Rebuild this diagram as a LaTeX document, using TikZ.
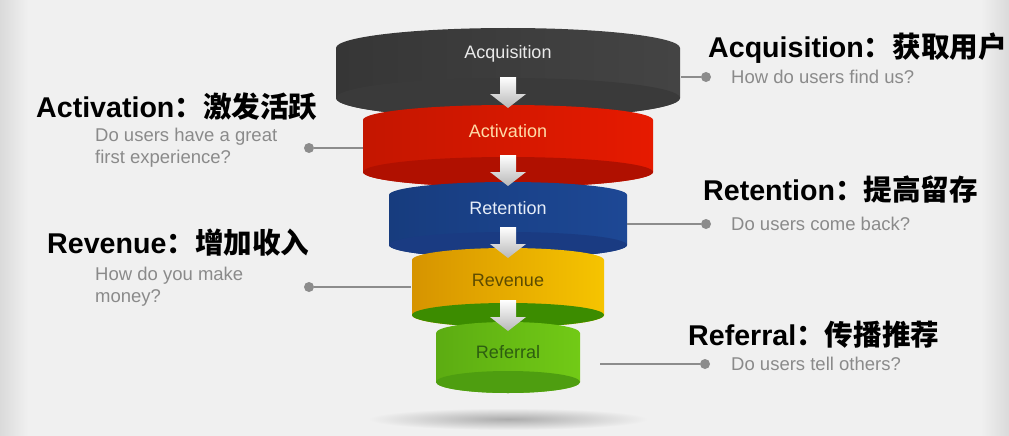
\documentclass[tikz,border=0pt]{standalone}
\usepackage{fontspec}
\setmainfont{Liberation Sans}
\newfontfamily\cjk{Noto Sans CJK SC}

\definecolor{bgc}{HTML}{F0F0F0}
\definecolor{bgside}{HTML}{DADADA}
\definecolor{dotgray}{HTML}{8C8C8C}
\definecolor{qgray}{HTML}{8A8A8A}
\definecolor{arrowgray}{HTML}{B8B8B8}
% ring colours: left, middle, right, underside, text
\definecolor{acqL}{HTML}{363636}\definecolor{acqM}{HTML}{6A6A6A}\definecolor{acqR}{HTML}{444444}
\definecolor{acqU}{HTML}{3A3A3A}\definecolor{acqT}{HTML}{EAEAEA}
\definecolor{actL}{HTML}{C41600}\definecolor{actM}{HTML}{FF3C00}\definecolor{actR}{HTML}{E61A00}
\definecolor{actU}{HTML}{B01000}\definecolor{actT}{HTML}{FFDCA8}
\definecolor{retL}{HTML}{173C7E}\definecolor{retM}{HTML}{4172C2}\definecolor{retR}{HTML}{1D4895}
\definecolor{retU}{HTML}{1A3B82}\definecolor{retT}{HTML}{E6EDF8}
\definecolor{revL}{HTML}{D69400}\definecolor{revM}{HTML}{FFE800}\definecolor{revR}{HTML}{F6C400}
\definecolor{revU}{HTML}{3C8C00}\definecolor{revT}{HTML}{5C4B00}
\definecolor{refL}{HTML}{5CAC12}\definecolor{refM}{HTML}{94E626}\definecolor{refR}{HTML}{72CA16}
\definecolor{refU}{HTML}{4E9E10}\definecolor{refT}{HTML}{2D5E10}

\tikzset{
  ringlabel/.style={font=\fontsize{18}{20}\selectfont},
  headline/.style={anchor=west, inner sep=0pt, font=\fontsize{28.6}{30}\selectfont\bfseries},
  question/.style={anchor=west, align=left, inner sep=0pt, text=qgray, font=\fontsize{18.5}{22}\selectfont},
  knob/.style={circle, fill=dotgray, inner sep=0pt, minimum size=10pt},
  link/.style={draw=dotgray, line width=1.2pt},
}

\begin{document}
\begin{tikzpicture}[x=1pt,y=-1pt]
  \useasboundingbox (0,0) rectangle (1009,436);
  \fill[bgc] (0,0) rectangle (1009,436);
  \shade[left color=bgside, right color=bgc] (0,0) rectangle (28,436);
  \shade[left color=bgc, right color=bgside] (981,0) rectangle (1009,436);
  \shade[inner color=gray!65, outer color=bgc] (508,419) ellipse [x radius=140, y radius=11];

  % the five rings, top to bottom
  \foreach \a/\t/\b/\r/\k in {172/48/98/20/acq, 145/120/172/15/act, 119/195/245/13/ret,
                              96/260/315/12/rev, 72/333/382/11/ref}
  {
    \shade[left color=\k L, middle color=\k M, right color=\k R]
      (508-\a,\t) arc[start angle=180, end angle=360, x radius=\a, y radius=\r]
      -- (508+\a,\b) arc[start angle=0, end angle=180, x radius=\a, y radius=\r] -- cycle;
    \fill[\k U] (508,\b) ellipse [x radius=\a, y radius=\r];
  }

  % arrows between the rings
  \foreach \y in {77,155,227,300}
    \shade[top color=white, bottom color=arrowgray]
      (500,\y) -- (516,\y) -- (516,\y+17) -- (526,\y+17) -- (508,\y+31)
      -- (490,\y+17) -- (500,\y+17) -- cycle;

  \node[ringlabel, text=acqT] (acq) at (508,54)  {Acquisition};
  \node[ringlabel, text=actT] (act) at (508,131) {Activation};
  \node[ringlabel, text=retT] (ret) at (508,208) {Retention};
  \node[ringlabel, text=revT] (rev) at (508,280) {Revenue};
  \node[ringlabel, text=refT] (ref) at (508,352) {Referral};

  % Acquisition
  \node[headline] (tacq) at (708,48) {Acquisition{\cjk ：获取用户}};
  \node[question] (qacq) at (731,77) {How do users find us?};
  \node[knob] (dacq) at (706,77) {};
  \coordinate (eacq) at (681,77);
  \draw[link] (eacq) -- (dacq);

  % Activation
  \node[headline] (tact) at (36,107) {Activation{\cjk ：激发活跃}};
  \node[question] (qact) at (95,148) {Do users have a great\\first experience?};
  \node[knob] (dact) at (309,148) {};
  \coordinate (eact) at (363,148);
  \draw[link] (dact) -- (eact);

  % Retention
  \node[headline] (tret) at (703,190) {Retention{\cjk ：提高留存}};
  \node[question] (qret) at (731,224) {Do users come back?};
  \node[knob] (dret) at (706,224) {};
  \coordinate (eret) at (627,224);
  \draw[link] (eret) -- (dret);

  % Revenue
  \node[headline] (trev) at (47,243) {Revenue{\cjk ：增加收入}};
  \node[question] (qrev) at (95,287) {How do you make\\money?};
  \node[knob] (drev) at (309,287) {};
  \coordinate (erev) at (411,287);
  \draw[link] (drev) -- (erev);

  % Referral
  \node[headline] (tref) at (688,335) {Referral{\cjk ：传播推荐}};
  \node[question] (qref) at (731,364) {Do users tell others?};
  \node[knob] (dref) at (705,364) {};
  \coordinate (eref) at (600,364);
  \draw[link] (eref) -- (dref);
\end{tikzpicture}
\end{document}
